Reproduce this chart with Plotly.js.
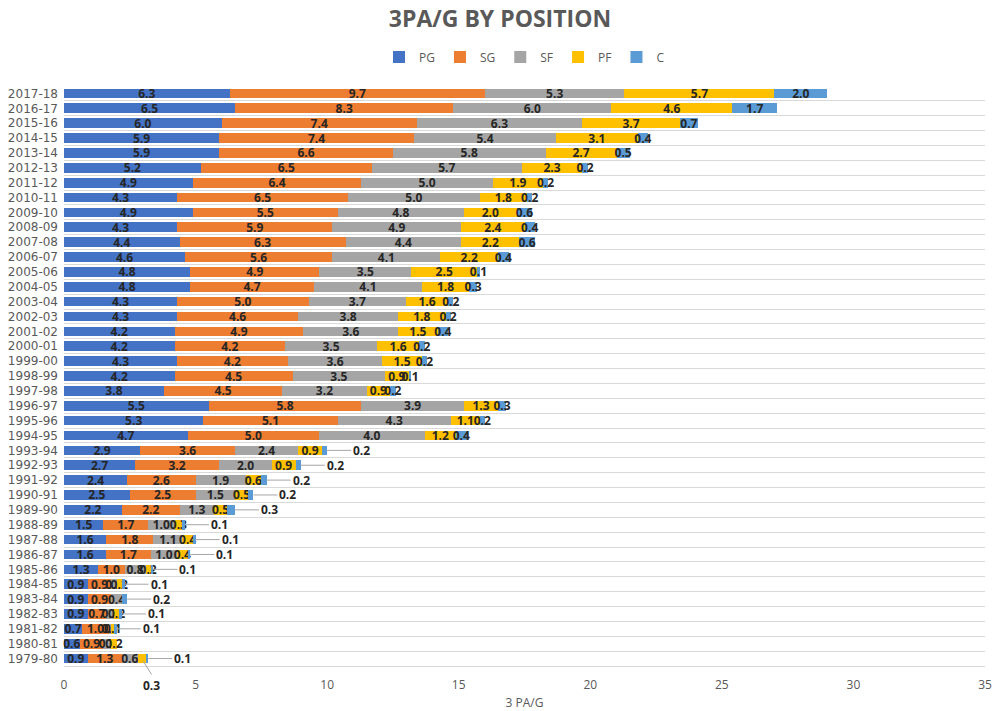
<!DOCTYPE html>
<html>
<head>
<meta charset="utf-8">
<script src="https://cdn.plot.ly/plotly-3.0.1.min.js"></script>
<style>html,body{margin:0;padding:0;background:#fff;}#chart{width:1000px;height:711px;}</style>
</head>
<body>
<div id="chart"></div>
<script>
// Seasons, bottom to top
const seasons = ['1979-80','1980-81','1981-82','1982-83','1983-84','1984-85','1985-86','1986-87','1987-88','1988-89',
  '1989-90','1990-91','1991-92','1992-93','1993-94','1994-95','1995-96','1996-97','1997-98','1998-99',
  '1999-00','2000-01','2001-02','2002-03','2003-04','2004-05','2005-06','2006-07','2007-08','2008-09',
  '2009-10','2010-11','2011-12','2012-13','2013-14','2014-15','2015-16','2016-17','2017-18'];

const PG = [0.9,0.6,0.7,0.9,0.9,0.9,1.3,1.6,1.6,1.5,
  2.2,2.5,2.4,2.7,2.9,4.7,5.3,5.5,3.8,4.2,
  4.3,4.2,4.2,4.3,4.3,4.8,4.8,4.6,4.4,4.3,
  4.9,4.3,4.9,5.2,5.9,5.9,6.0,6.5,6.3];
const SG = [1.3,0.9,1.0,0.7,0.9,0.9,1.0,1.7,1.8,1.7,
  2.2,2.5,2.6,3.2,3.6,5.0,5.1,5.8,4.5,4.5,
  4.2,4.2,4.9,4.6,5.0,4.7,4.9,5.6,6.3,5.9,
  5.5,6.5,6.4,6.5,6.6,7.4,7.4,8.3,9.7];
const SF = [0.6,0.3,0.1,0.3,0.4,0.2,0.8,1.0,1.1,1.0,
  1.3,1.5,1.9,2.0,2.4,4.0,4.3,3.9,3.2,3.5,
  3.6,3.5,3.6,3.8,3.7,4.1,3.5,4.1,4.4,4.9,
  4.8,5.0,5.0,5.7,5.8,5.4,6.3,6.0,5.3];
const PF = [0.3,0.2,0.1,0.2,0.0,0.2,0.2,0.4,0.4,0.3,
  0.5,0.5,0.6,0.9,0.9,1.2,1.1,1.3,0.9,0.9,
  1.5,1.6,1.5,1.8,1.6,1.8,2.5,2.2,2.2,2.4,
  2.0,1.8,1.9,2.3,2.7,3.1,3.7,4.6,5.7];
const C = [0.1,0.0,0.1,0.1,0.2,0.1,0.1,0.1,0.1,0.1,
  0.3,0.2,0.2,0.2,0.2,0.4,0.2,0.3,0.2,0.1,
  0.2,0.2,0.4,0.2,0.2,0.3,0.1,0.4,0.6,0.4,
  0.6,0.2,0.2,0.2,0.5,0.4,0.7,1.7,2.0];

const positions = ['PG','SG','SF','PF','C'];
const colors = ['#4472C4','#ED7D31','#A5A5A5','#FFC000','#5B9BD5'];
const series = [PG, SG, SF, PF, C];

// Seasons whose C label sits outside the bar with a leader line
const leaderSeasons = ['1979-80','1981-82','1982-83','1983-84','1984-85','1985-86','1986-87','1987-88','1988-89',
  '1989-90','1990-91','1991-92','1992-93','1993-94'];
// Season whose PF label is pulled below the bar
const pfBelowSeason = '1979-80';

const lblFont = {family: 'Open Sans, sans-serif', size: 12, color: '#262626', weight: 700};
const fmt = v => v > 0 ? v.toFixed(1) : '';

const traces = series.map((vals, k) => {
  const text = vals.map((v, i) => {
    if (positions[k] === 'C' && leaderSeasons.includes(seasons[i])) return '';
    if (positions[k] === 'PF' && seasons[i] === pfBelowSeason) return '';
    return fmt(v);
  });
  return {
    type: 'bar', orientation: 'h', name: positions[k],
    y: seasons, x: vals, text: text,
    textposition: 'inside', insidetextanchor: 'middle', textangle: 0,
    insidetextfont: lblFont, constraintext: 'none', cliponaxis: false,
    marker: {color: colors[k], line: {width: 0}},
    hoverinfo: 'x+y+name'
  };
});

const annotations = [];
seasons.forEach((s, i) => {
  const total = PG[i] + SG[i] + SF[i] + PF[i] + C[i];
  if (leaderSeasons.includes(s) && C[i] > 0) {
    annotations.push({
      x: total, y: s, xref: 'x', yref: 'y', text: fmt(C[i]),
      showarrow: true, arrowhead: 0, arrowwidth: 1, arrowcolor: '#a6a6a6',
      ax: 24, ay: 0, xanchor: 'left', standoff: 0,
      font: lblFont
    });
  }
  if (s === pfBelowSeason) {
    annotations.push({
      x: PG[i] + SG[i] + SF[i] + PF[i] / 2, y: s, xref: 'x', yref: 'y', text: fmt(PF[i]),
      showarrow: true, arrowhead: 0, arrowwidth: 1, arrowcolor: '#a6a6a6',
      ax: 10, ay: 16, yanchor: 'top', standoff: 3,
      font: lblFont
    });
  }
});

const layout = {
  width: 1000, height: 711,
  paper_bgcolor: '#ffffff', plot_bgcolor: '#ffffff',
  margin: {l: 64, r: 15, t: 86, b: 45},
  barmode: 'stack', bargap: 0.35,
  uniformtext: {minsize: 12, mode: 'show'},
  title: {
    text: '3PA/G BY POSITION', x: 0.5, xanchor: 'center', y: 0.973, yanchor: 'middle',
    font: {family: 'Open Sans, sans-serif', size: 23, color: '#595959', weight: 700}
  },
  showlegend: true,
  legend: {
    orientation: 'h', x: 0.5, xanchor: 'center', y: 1.05, yanchor: 'middle',
    font: {family: 'Open Sans, sans-serif', size: 12, color: '#595959'},
    itemwidth: 30, traceorder: 'normal'
  },
  xaxis: {
    range: [0, 35], autorange: false, dtick: 5, tick0: 0, showgrid: false, zeroline: false,
    showline: true, linecolor: '#d9d9d9', linewidth: 1, ticks: '',
    ticklabelstandoff: 8,
    tickfont: {family: 'Liberation Sans Narrow, Open Sans, sans-serif', size: 12, color: '#595959'},
    title: {text: '3 PA/G', standoff: 6, font: {family: 'Open Sans, sans-serif', size: 12, color: '#595959'}},
    automargin: false, fixedrange: true
  },
  yaxis: {
    type: 'category', categoryorder: 'array', categoryarray: seasons,
    range: [-0.5, seasons.length - 0.5], autorange: false,
    tickmode: 'array', tickvals: seasons, ticktext: seasons,
    tickson: 'boundaries', showgrid: true, gridcolor: '#d9d9d9', gridwidth: 1,
    ticks: '', ticklabelstandoff: 5, showline: false, zeroline: false,
    tickfont: {family: 'DejaVu Sans, sans-serif', size: 12, color: '#595959'},
    automargin: false, fixedrange: true
  },
  annotations: annotations
};

Plotly.newPlot('chart', traces, layout, {displayModeBar: false, staticPlot: true});
</script>
</body>
</html>
